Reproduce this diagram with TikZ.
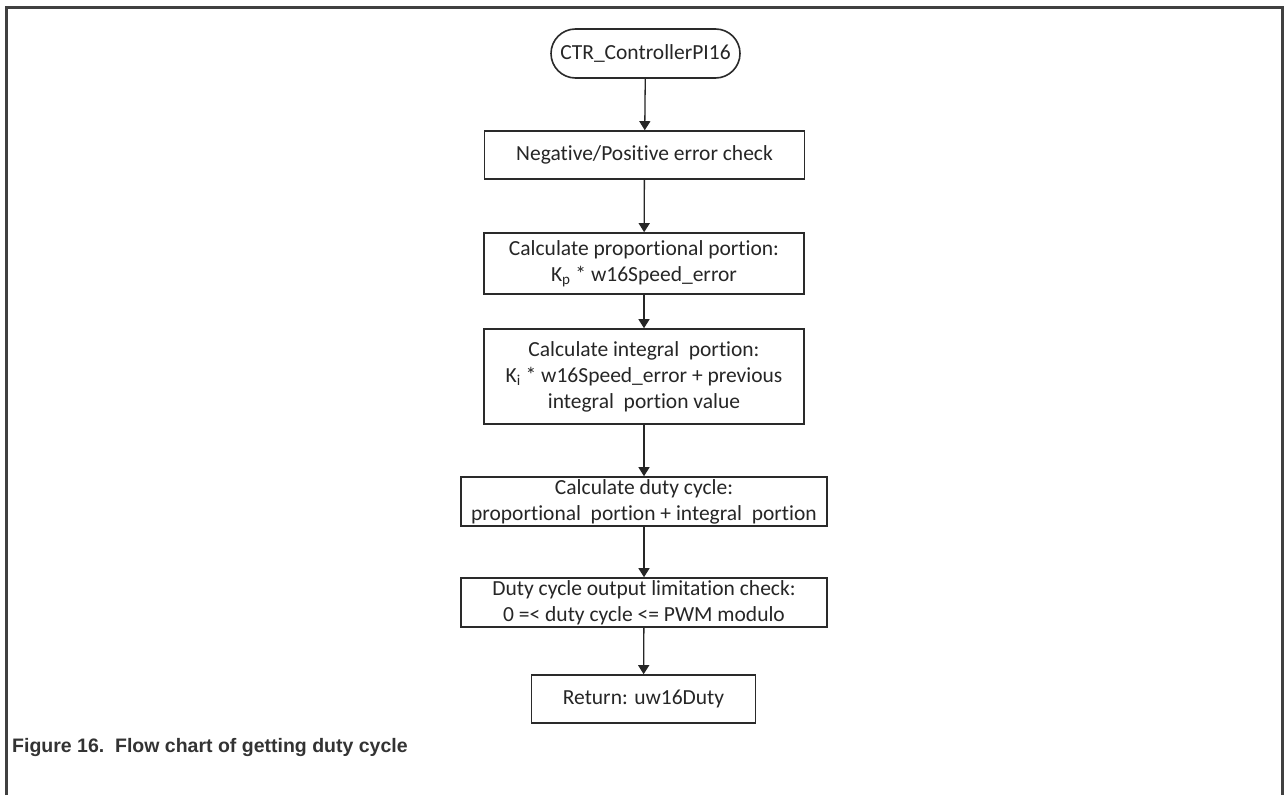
\documentclass[tikz,border=0pt]{standalone}
\usepackage{fontspec}
\setmainfont{Carlito}[Ligatures=NoCommon]
\newfontfamily\capfont{Liberation Sans}
\usetikzlibrary{arrows.meta,shapes.misc}
\definecolor{framegray}{HTML}{404040}
\definecolor{edgegray}{HTML}{2A2A2A}
\definecolor{captiongray}{HTML}{333333}
\tikzset{
  stepbox/.style={draw=edgegray, line width=1.6pt, fill=white, align=center,
    inner sep=0pt, font=\fontsize{21.5}{26}\selectfont, text=black!85},
  termbox/.style={stepbox, rounded rectangle},
  flow/.style={draw=black!85, line width=1.3pt,
    -{Triangle[length=9pt,width=11pt]}},
}
\begin{document}
\begin{tikzpicture}[x=1pt,y=-1pt]
\useasboundingbox (0,0) rectangle (1284,795);
\fill[white] (0,0) rectangle (1284,795);
% open outer frame
\draw[framegray, line width=3pt] (6.5,795) -- (6.5,7.5) -- (1282,7.5) -- (1282,795);

% flow chart steps
\node[termbox, minimum width=189pt, minimum height=49pt] (start) at (645.5,53.5) {CTR\_ControllerPI16};
\node[stepbox, minimum width=320pt, minimum height=48pt] (sign) at (644.5,155) {Negative/Positive error check};
\node[stepbox, minimum width=320pt, minimum height=61pt] (prop) at (644,263.5)
  {Calculate proportional portion:\\K\textsubscript{p} * w16Speed\_error};
\node[stepbox, minimum width=320pt, minimum height=95pt] (integ) at (644,376.5)
  {Calculate integral\ \ portion:\\K\textsubscript{i} * w16Speed\_error + previous\\integral\ \ portion value};
\node[stepbox, minimum width=366pt, minimum height=49pt] (duty) at (644,501.5)
  {Calculate duty cycle:\\proportional\ \ portion + integral\ \ portion};
\node[stepbox, minimum width=366pt, minimum height=49pt] (limit) at (644,602.5)
  {Duty cycle output limitation check:\\0 =\textless{} duty cycle \textless= PWM modulo};
\node[stepbox, minimum width=224pt, minimum height=48pt] (ret) at (643.5,699) {Return: uw16Duty};

% connectors
\draw[flow] (start) -- (sign);
\draw[flow] (sign) -- (prop);
\draw[flow] (prop) -- (integ);
\draw[flow] (integ) -- (duty);
\draw[flow] (duty) -- (limit);
\draw[flow] (limit) -- (ret);

% caption
\node[anchor=base west, inner sep=0pt, text=captiongray,
  font=\capfont\bfseries\fontsize{19.5}{22}\selectfont] (cap) at (12,752)
  {Figure 16.\ \ Flow chart of getting duty cycle};
\end{tikzpicture}
\end{document}
